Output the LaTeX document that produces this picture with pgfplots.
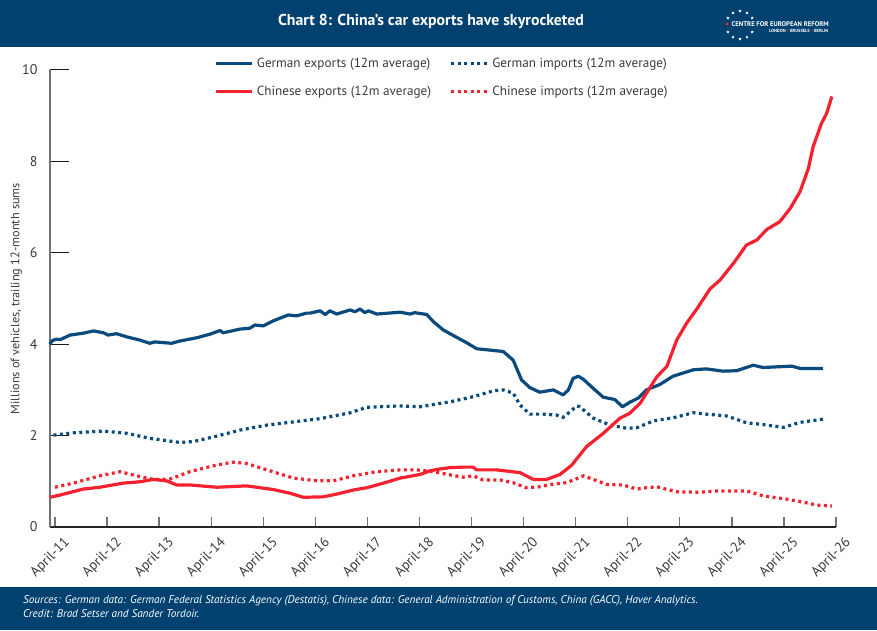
\documentclass[border=0pt]{standalone}
\usepackage{pgfplots}
\usepackage{pgfplotstable}
\pgfplotsset{compat=1.18}
\usepackage{graphicx}
\usepackage{fontspec}
\setmainfont{PT Sans}
\usetikzlibrary{shapes.geometric,calc}
\definecolor{cernavy}{HTML}{00416F}
\definecolor{gernavy}{HTML}{0B4A7C}
\definecolor{chnred}{HTML}{F5212F}
\definecolor{txtgray}{HTML}{3A3A3A}

\pgfplotstableread{
x y
-0.10 4.00
-0.05 4.08
0.03 4.11
0.10 4.10
0.29 4.20
0.54 4.24
0.74 4.29
0.93 4.25
1.02 4.20
1.18 4.23
1.38 4.16
1.63 4.09
1.82 4.02
1.92 4.05
2.24 4.02
2.40 4.07
2.72 4.14
2.98 4.22
3.17 4.30
3.23 4.25
3.55 4.33
3.74 4.35
3.84 4.42
4.00 4.40
4.19 4.51
4.48 4.64
4.64 4.62
4.83 4.68
4.90 4.68
5.09 4.73
5.19 4.65
5.28 4.73
5.41 4.66
5.67 4.75
5.76 4.71
5.86 4.77
5.95 4.69
6.02 4.73
6.18 4.66
6.63 4.70
6.82 4.66
6.91 4.69
7.14 4.65
7.27 4.49
7.46 4.31
7.65 4.19
7.91 4.03
8.10 3.90
8.36 3.87
8.61 3.84
8.80 3.65
8.96 3.22
9.12 3.05
9.31 2.95
9.57 3.00
9.76 2.89
9.86 3.00
9.95 3.25
10.05 3.30
10.15 3.23
10.34 3.03
10.53 2.84
10.75 2.79
10.90 2.63
11.04 2.73
11.20 2.82
11.36 3.00
11.62 3.12
11.87 3.30
12.26 3.44
12.51 3.46
12.83 3.41
13.09 3.42
13.41 3.54
13.60 3.49
14.15 3.52
14.31 3.47
14.75 3.47
}\gerexp

\pgfplotstableread{
x y
-0.03 2.01
0.35 2.06
0.93 2.10
1.38 2.05
1.82 1.94
2.40 1.85
2.66 1.87
3.11 1.99
3.55 2.12
4.07 2.23
4.58 2.30
5.09 2.37
5.67 2.50
5.99 2.62
6.63 2.65
7.01 2.63
7.59 2.74
8.03 2.85
8.42 2.98
8.61 3.00
8.80 2.93
8.93 2.67
9.12 2.47
9.38 2.47
9.63 2.45
9.76 2.40
9.89 2.52
10.02 2.65
10.08 2.63
10.34 2.38
10.66 2.23
10.98 2.16
11.17 2.17
11.49 2.32
11.87 2.39
12.26 2.50
12.51 2.47
12.90 2.43
13.28 2.28
13.54 2.25
13.99 2.18
14.31 2.29
14.75 2.36
}\gerimp

\pgfplotstableread{
x y
-0.10 0.65
0.10 0.70
0.54 0.83
0.86 0.87
1.31 0.96
1.63 0.99
1.89 1.04
2.14 1.01
2.34 0.92
2.59 0.92
3.11 0.87
3.68 0.90
4.19 0.82
4.51 0.74
4.77 0.65
5.15 0.66
5.41 0.72
5.73 0.81
5.99 0.86
6.31 0.96
6.63 1.07
7.01 1.15
7.20 1.23
7.39 1.27
7.59 1.30
7.84 1.31
8.03 1.31
8.10 1.25
8.48 1.25
8.93 1.19
9.19 1.04
9.44 1.04
9.70 1.15
9.92 1.35
10.21 1.76
10.53 2.05
10.85 2.38
11.04 2.49
11.24 2.71
11.56 3.29
11.75 3.51
11.94 4.09
12.13 4.46
12.32 4.76
12.58 5.21
12.77 5.40
13.03 5.77
13.28 6.17
13.48 6.28
13.67 6.51
13.92 6.68
14.12 6.97
14.31 7.34
14.47 7.85
14.56 8.32
14.72 8.83
14.82 9.05
14.92 9.42
}\chnexp

\pgfplotstableread{
x y
0.00 0.87
0.35 0.96
0.86 1.12
1.25 1.21
1.57 1.12
1.89 1.04
2.21 1.05
2.59 1.21
3.04 1.34
3.42 1.42
3.68 1.39
4.07 1.25
4.58 1.07
5.03 1.01
5.34 1.01
5.73 1.12
6.18 1.21
6.63 1.25
6.95 1.25
7.27 1.21
7.59 1.14
7.84 1.09
8.03 1.12
8.22 1.03
8.55 1.03
8.80 0.97
9.05 0.86
9.31 0.88
9.57 0.94
9.83 0.97
10.15 1.12
10.34 1.04
10.60 0.93
10.91 0.92
11.17 0.83
11.36 0.86
11.56 0.88
11.94 0.77
12.39 0.76
12.71 0.79
13.28 0.79
13.60 0.68
14.05 0.61
14.43 0.53
14.63 0.48
14.92 0.46
}\chnimp

\begin{document}
\begin{tikzpicture}
% header and footer bars
\fill[cernavy] (0pt,583pt) rectangle (877pt,630pt);
\fill[cernavy] (0pt,0pt) rectangle (877pt,43pt);
\node[text=white, font=\fontsize{15.8pt}{18pt}\selectfont\bfseries] at (431pt,609pt) {Chart 8: China's car exports have skyrocketed};
% logo
\foreach \a in {30,60,90,120,150,210,240,270,300,330}
  \node[star, star points=5, star point ratio=2.3, fill=white, inner sep=0pt, minimum size=3.4pt] at ($(740pt,605pt)+(\a:14pt)$) {};
\fill[chnred] (727pt,606pt) circle (1.7pt);
\node[anchor=west, inner sep=0pt, text=white] at (731.5pt,606pt) {\resizebox{97pt}{!}{\bfseries CENTRE FOR EUROPEAN REFORM}};
\node[anchor=west, inner sep=0pt, text=white] at (769pt,599pt) {\resizebox{59pt}{!}{\bfseries LONDON {\color{chnred}\textbullet} BRUSSELS {\color{chnred}\textbullet} BERLIN}};
% footer text
\node[anchor=west, align=left, text=white, inner sep=0pt, font=\fontsize{11.2pt}{14pt}\selectfont\itshape] at (23pt,23pt) {Sources: German data: German Federal Statistics Agency (Destatis), Chinese data: General Administration of Customs, China (GACC), Haver Analytics.\\Credit: Brad Setser and Sander Tordoir.};

\begin{axis}[
  at={(50pt,103pt)}, anchor=south west,
  width=786pt, height=457pt, scale only axis,
  xmin=-0.096, xmax=15, ymin=0, ymax=10,
  axis lines*=left,
  x axis line style={black!85, line width=1.3pt},
  y axis line style={black!55, line width=1.3pt},
  tick align=inside,
  xtick={0,...,15},
  xticklabels={April-11,April-12,April-13,April-14,April-15,April-16,April-17,April-18,April-19,April-20,April-21,April-22,April-23,April-24,April-25,April-26},
  ytick={0,2,4,6,8,10},
  xtick style={/pgfplots/major tick length=10pt, black!55, line width=1.3pt},
  ytick style={/pgfplots/major tick length=19pt, black!90, line width=1pt},
  minor tick num=0,
  /pgf/number format/assume math mode=true,
  tick label style={font=\fontsize{14pt}{16pt}\selectfont, text=txtgray},
  xticklabel style={xshift=15pt, yshift=-11pt, rotate=45, anchor=east},
  yticklabel style={xshift=-9pt},
  every axis y label/.style={at={(axis description cs:-0.043,0.5)}, rotate=90, anchor=center, font=\fontsize{12.3pt}{14pt}\selectfont, text=txtgray},
  ylabel={Millions of vehicles, trailing 12-month sums},
  legend columns=2,
  legend style={draw=none, fill=none, at={(axis description cs:0.2087,1.028)}, anchor=north west, inner sep=0pt,
    font=\fontsize{13.2pt}{15pt}\selectfont, text=txtgray, row sep=15pt,
    nodes={inner xsep=3.5pt, inner ysep=1pt},
    /tikz/every even column/.append style={column sep=15pt}},
  legend cell align=left,
  legend image code/.code={\draw[#1] (0pt,0pt) -- (36pt,0pt);},
  clip=false,
]
\addplot[gernavy, line width=3.2pt, line join=round] table {\gerexp};
\addlegendentry{German exports (12m average)}
\addplot[gernavy, line width=3.2pt, dash pattern=on 3pt off 3.5pt] table {\gerimp};
\addlegendentry{German imports (12m average)}
\addplot[chnred, line width=3.2pt, line join=round] table {\chnexp};
\addlegendentry{Chinese exports (12m average)}
\addplot[chnred, line width=3.2pt, dash pattern=on 3pt off 3.5pt] table {\chnimp};
\addlegendentry{Chinese imports (12m average)}
\end{axis}
\pgfresetboundingbox
\path (0pt,0pt) rectangle (877pt,630pt);
\end{tikzpicture}
\end{document}
